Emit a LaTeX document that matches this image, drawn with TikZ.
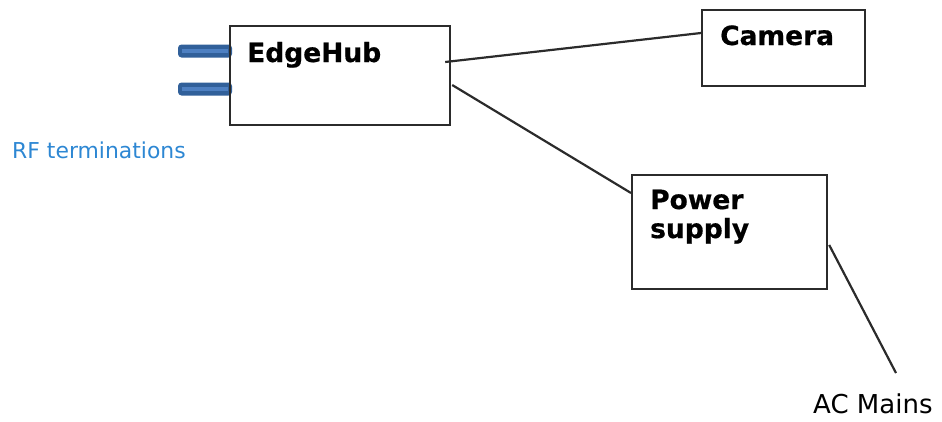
\documentclass[tikz,border=0pt]{standalone}
\usepackage{fontspec}
\setmainfont{DejaVu Sans}
\newfontfamily\heavyfont[FakeBold=0.6]{DejaVu Sans Bold}
\usetikzlibrary{calc}
\definecolor{rfdark}{HTML}{31609A}
\definecolor{rflight}{HTML}{4E80C2}
\definecolor{rftext}{HTML}{2D87D3}
\definecolor{linec}{HTML}{2B2B2B}
\tikzset{
  box/.style={draw=linec, line width=2.2bp, inner sep=0pt, anchor=north west},
  boxtext/.style={anchor=base west, inner sep=0pt, font=\fontsize{26.5bp}{29bp}\selectfont\heavyfont, align=left},
  conn/.style={draw=linec, line width=2.2bp},
  rfouter/.style={fill=rfdark, rounded corners=3.5bp},
  rfinner/.style={draw=rflight, line width=3.5bp},
}
\begin{document}
\begin{tikzpicture}[x=1bp,y=-1bp]
\useasboundingbox (0,0) rectangle (942,421);
% RF bars
\coordinate (rf1a) at (182,51);
\coordinate (rf1b) at (228,51);
\coordinate (rf2a) at (182,89);
\coordinate (rf2b) at (228,89);
\fill[rfouter] ($(rf1a)+(-4,-6.5)$) rectangle ($(rf1b)+(4,6.5)$);
\fill[rfouter] ($(rf2a)+(-4,-6.5)$) rectangle ($(rf2b)+(4,6.5)$);
\draw[rfinner] (rf1a) -- (rf1b);
\draw[rfinner] (rf2a) -- (rf2b);
% boxes
\node[box, minimum width=220bp, minimum height=99bp] (hub) at (229,25) {};
\node[box, minimum width=163bp, minimum height=76bp] (cam) at (701,9) {};
\node[box, minimum width=195bp, minimum height=114bp] (psu) at (631,174) {};
% texts
\node[boxtext] (hubt) at (247,62) {EdgeHub};
\node[boxtext] (camt) at (720,45) {Camera};
\node[boxtext, anchor=north west] (psut) at (650,189.5) {Power\\supply};
\node[anchor=base west, inner sep=0pt, font=\fontsize{21.9bp}{24bp}\selectfont, text=rftext] (rft) at (12,158) {RF terminations};
\node[anchor=base west, inner sep=0pt, font=\fontsize{26bp}{29bp}\selectfont, text=black] (act) at (813,413) {AC Mains};
% connectors
\coordinate (h1) at ($(hub.north east)+(-6,37)$);
\coordinate (h2) at ($(hub.north east)+(1,60)$);
\coordinate (acend) at (896,373);
\draw[conn] (h1) -- ($(cam.north west)+(0,24)$);
\draw[conn] (h2) -- ($(psu.north west)+(0,19)$);
\draw[conn] ($(psu.north east)+(1,71)$) -- (acend);
\end{tikzpicture}
\end{document}
